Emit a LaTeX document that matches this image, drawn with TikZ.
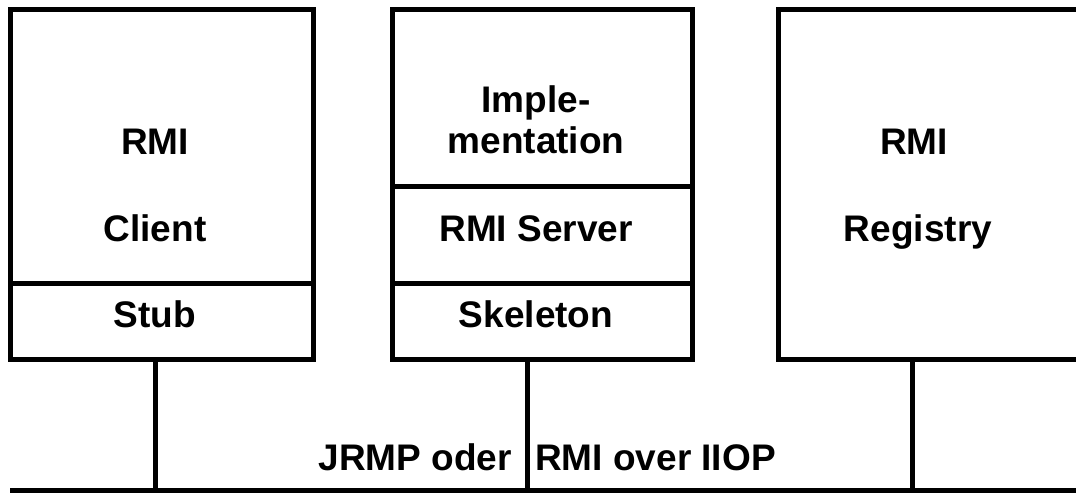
\documentclass[tikz,border=0pt]{standalone}
\usepackage{fontspec}
\setmainfont{Liberation Sans}
\usetikzlibrary{positioning}

\begin{document}
\begin{tikzpicture}[
  x=1pt,y=1pt,
  box/.style={draw,line width=5pt,inner sep=0pt,outer sep=0pt,minimum width=#1},
  box/.default=303pt,
  lbl/.style={font=\fontsize{37}{41}\selectfont\bfseries,inner sep=0pt,anchor=base,align=center},
  wire/.style={draw,line width=5pt},
  ]
  \useasboundingbox (0,0) rectangle (1076,493);
  \clip (0,0) rectangle (1076,493);

  % client side
  \node [box,minimum height=274pt,anchor=north west] (client) at (10,483) {};
  \node [box,minimum height=75pt,below=0pt of client] (stub) {};
  \node [lbl] (client-rmi) at (155,338) {RMI};
  \node [lbl] (client-text) at (155,251) {Client};
  \node [lbl] (stub-text) at (155,165) {Stub};

  % server side
  \node [box=300pt,minimum height=177pt,anchor=north west] (impl) at (392,483) {};
  \node [box=300pt,minimum height=97pt,below=0pt of impl] (server) {};
  \node [box=300pt,minimum height=75pt,below=0pt of server] (skeleton) {};
  \node [lbl] (impl-text) at (536,339) {Imple-\\mentation};
  \node [lbl] (server-text) at (536,251) {RMI Server};
  \node [lbl] (skeleton-text) at (536,165) {Skeleton};

  % registry
  \node [box,minimum height=349pt,anchor=north west] (registry) at (778,483) {};
  \node [lbl] (registry-rmi) at (914,338) {RMI};
  \node [lbl] (registry-text) at (918,251) {Registry};

  % network
  \coordinate (bus-west) at (10,2.5);
  \coordinate (bus-east) at (1076,2.5);
  \coordinate (client-tap) at (155,2.5);
  \coordinate (server-tap) at (527,2.5);
  \coordinate (registry-tap) at (912,2.5);
  \draw [wire] (bus-west) -- (bus-east);
  \draw [wire] (client-tap) -- (client-tap |- stub.south);
  \draw [wire] (server-tap) -- (server-tap |- skeleton.south);
  \draw [wire] (registry-tap) -- (registry-tap |- registry.south);
  \node [lbl,anchor=base east] (jrmp-text) at (512,23) {JRMP oder};
  \node [lbl,anchor=base west] (iiop-text) at (535,23) {RMI over IIOP};

\end{tikzpicture}
\end{document}
